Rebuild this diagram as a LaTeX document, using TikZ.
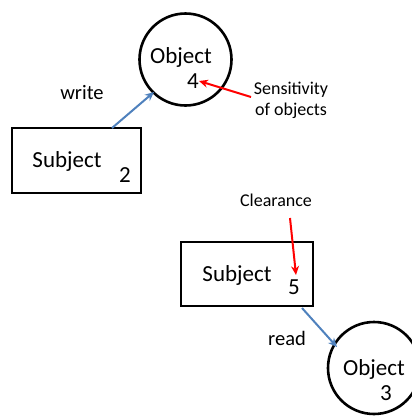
\documentclass[tikz,border=0pt]{standalone}
\usepackage{fontspec}
\setmainfont{Carlito}
\usetikzlibrary{arrows.meta}
\begin{document}
\begin{tikzpicture}[x=1pt,y=-1pt,
  big/.style={font=\fontsize{23}{25}\selectfont, inner sep=0pt},
  verb/.style={font=\fontsize{20.5}{23}\selectfont, inner sep=0pt},
  small/.style={font=\fontsize{18}{21}\selectfont, inner sep=0pt, align=center},
  objcircle/.style={draw=black, line width=2.6pt, circle, minimum size=92pt, inner sep=0pt},
  subjbox/.style={draw=black, line width=2.6pt, rectangle, inner sep=0pt},
  bluearrow/.style={draw={rgb,255:red,79;green,129;blue,189}, line width=2pt, -{Stealth[length=9pt,width=8pt]}},
  redarrow/.style={draw=red, line width=2pt, -{Stealth[length=9pt,width=8pt]}}]
\useasboundingbox (0,0) rectangle (412,416);
\begin{scope}
\clip (0,0) rectangle (412,416);
% top object
\node[objcircle] (obj4) at (185.5,59.5) {};
\node[big] (o4t) at (181,57) {Object};
\node[big] (n4) at (193,81) {4};
% subject 2
\node[subjbox, minimum width=129pt, minimum height=65pt] (sub2) at (76.5,160.5) {};
\node[big] (s2t) at (67,161) {Subject};
\node[big] (n2) at (125,175) {2};
\node[verb] (write) at (82,93) {write};
\node[small] (sens) at (291,100) {Sensitivity\\of objects};
\coordinate (w0) at (112,128);
\coordinate (w1) at (154,92);
\draw[bluearrow] (w0) -- (w1);
\coordinate (r0) at (251,97);
\draw[redarrow] (r0) -- (n4.east);
% subject 5
\node[subjbox, minimum width=132pt, minimum height=64pt] (sub5) at (247,274) {};
\node[big] (s5t) at (237,275) {Subject};
\node[big] (n5) at (294,287) {5};
\node[small] (clear) at (276,200) {Clearance};
\coordinate (c0) at (290,218);
\coordinate (c1) at (296,275);
\draw[redarrow] (c0) -- (c1);
\node[verb] (read) at (287,338) {read};
% bottom object
\node[objcircle] (obj3) at (374,368) {};
\node[big] (o3t) at (374,369) {Object};
\node[big] (n3) at (386,393) {3};
\coordinate (d0) at (302,308);
\coordinate (d1) at (337,347);
\draw[bluearrow] (d0) -- (d1);
\end{scope}
\end{tikzpicture}
\end{document}
